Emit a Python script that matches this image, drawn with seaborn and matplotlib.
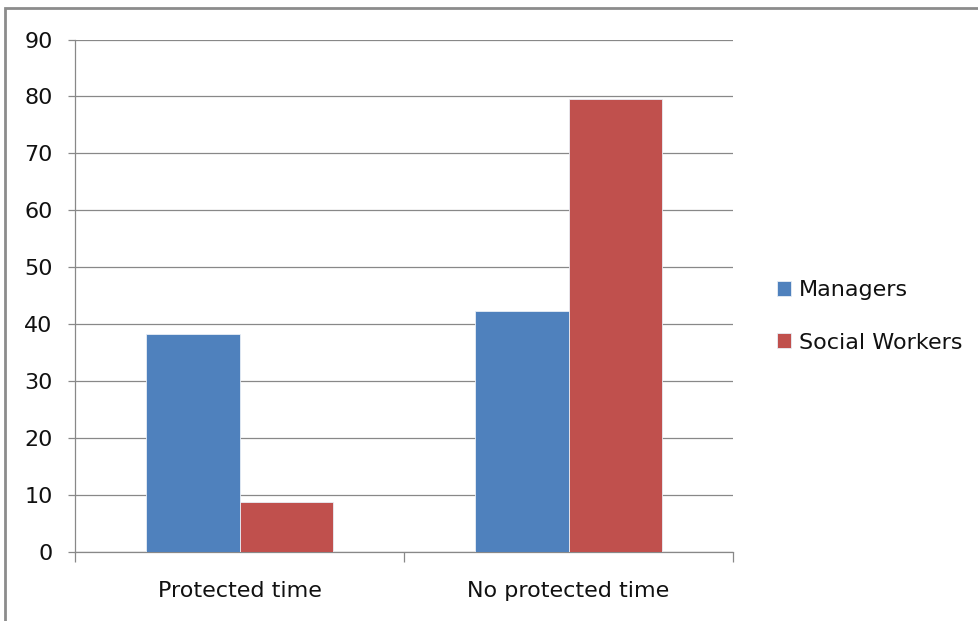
import pandas as pd
import seaborn as sns
import matplotlib.pyplot as plt
from matplotlib.patches import Rectangle

# data
categories = ["Protected time", "No protected time"]
managers = [38.3, 42.3]
social_workers = [8.7, 79.5]
series_names = ["Managers", "Social Workers"]
colors = ["#4F81BD", "#C0504D"]

df = pd.DataFrame({
    "category": categories * 2,
    "group": [series_names[0]] * 2 + [series_names[1]] * 2,
    "value": managers + social_workers,
})

sns.set_theme(style="white")
plt.rcParams['font.family'] = ['DejaVu Sans']

fig = plt.figure(figsize=(9.79, 6.21), dpi=100)
ax = fig.add_axes([75 / 979, 69 / 621, 658 / 979, 512.5 / 621])

sns.barplot(data=df, x="category", y="value", hue="group", order=categories,
            hue_order=series_names, palette=colors, width=0.566, gap=0,
            saturation=1, linewidth=0.6, edgecolor="#e8eef6", ax=ax, zorder=3)

ax.set_xlim(-0.5, 1.5)
ax.set_ylim(0, 90)
ax.set_yticks(range(0, 91, 10))
ax.yaxis.grid(True, color="#888888", linewidth=0.9, zorder=0)
ax.set_axisbelow(True)
ax.set_xlabel("")
ax.set_ylabel("")

for s in ["top", "right"]:
    ax.spines[s].set_visible(False)
for s in ["left", "bottom"]:
    ax.spines[s].set_color("#888888")
    ax.spines[s].set_linewidth(0.9)

ax.tick_params(axis="y", which="major", direction="out", length=5, width=0.9,
               color="#888888", pad=11, labelsize=16, labelcolor="#111111", left=True)
ax.tick_params(axis="x", which="major", length=0, pad=21, labelsize=16, labelcolor="#111111")
ax.set_xticks([-0.5, 0.5, 1.5], minor=True)
ax.tick_params(axis="x", which="minor", direction="out", length=7, width=0.9,
               color="#888888", bottom=True)

leg = ax.legend(loc="center left", bbox_to_anchor=(777 / 979, (621 - 316.5) / 621),
                bbox_transform=fig.transFigure, frameon=False, fontsize=16,
                handlelength=0.65, handleheight=0.65, handletextpad=0.35,
                labelspacing=1.45, borderaxespad=0, borderpad=0)
for t in leg.get_texts():
    t.set_color("#111111")

# chart-area border, cut off at right and bottom like the reference
fig.patches.append(Rectangle((5.5 / 979, -0.1), 1.2, 1 - 7.5 / 621 + 0.1,
                             transform=fig.transFigure, fill=False,
                             edgecolor="#8c8c8c", linewidth=2))

fig.savefig("out.png", dpi=100, facecolor="white")
